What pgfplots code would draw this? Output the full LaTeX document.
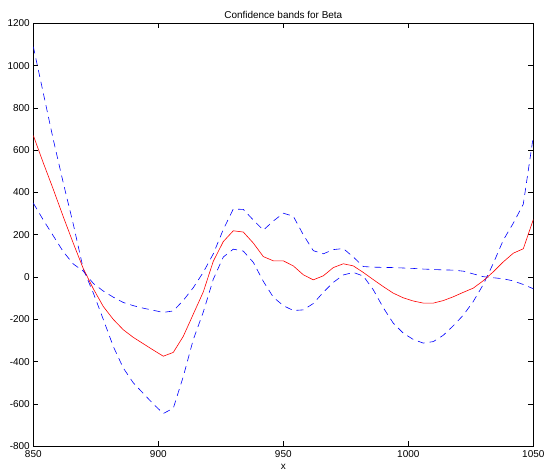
\documentclass[border=0pt]{standalone}
\usepackage{fontspec}
\setmainfont{Liberation Sans}
\usepackage{pgfplots}
\usepackage{pgfplotstable}
\pgfplotsset{compat=1.18}

\pgfplotstableread{
x    est   bandA  bandB
850  670   1090   350
854  540   870    270
858  415   650    195
862  285   445    120
866  160   250    62
870  40    38     28
874  -55   -75    -30
878  -139  -200   -66
882  -200  -328   -95
886  -249  -430   -120
890  -285  -500   -135
894  -315  -550   -147
898  -345  -600   -157
902  -374  -645   -167
906  -356  -620   -160
910  -280  -470   -110
914  -175  -295   -50
918  -70   -165   23
922  75    -10    110
926  168   95     225
930  219   132    322
934  213   123    320
938  161   70     270
942  97    -20    222
946  77    -95    265
950  77    -135   302
954  53    -158   288
958  11    -155   200
962  -13   -125   125
966  6     -72    110
970  45    -25    130
974  63    10     135
978  53    22     95
982  22    5      50
986  -12   -60    47
990  -45   -145   46
994  -76   -218   45
998  -98   -265   43
1002 -113  -295   41
1006 -123  -312   38
1010 -123  -305   36
1014 -111  -275   34
1018 -93   -230   33
1022 -72   -180   28
1026 -52   -115   15
1030 -17   -35    2
1034 25    65     -3
1038 72    175    -8
1042 113   255    -18
1046 134   345    -35
1050 272   665    -55
}\betatab

\begin{document}
\begin{tikzpicture}
\begin{axis}[
    scale only axis,
    width=500bp, height=423bp,
    xmin=850, xmax=1050,
    ymin=-800, ymax=1200,
    xtick={850,900,...,1050},
    ytick={-800,-600,...,1200},
    tick align=inside,
    major tick length=5bp,
    axis line style={line width=0.7pt},
    tick style={line width=0.6pt, black},
    /pgf/number format/assume math mode=true,
    /pgf/number format/1000 sep={},
    ticklabel style={font=\fontsize{10}{12}\selectfont},
    title={Confidence bands for Beta},
    title style={font=\fontsize{10}{12}\selectfont, yshift=-5bp},
    xlabel={x},
    xlabel style={font=\fontsize{10}{12}\selectfont, yshift=0bp},
    xticklabel style={yshift=-1bp},
]
\addplot[blue, dash pattern=on 7bp off 5bp, line width=0.6pt] table[x=x, y=bandA] {\betatab};
\addplot[blue, dash pattern=on 7bp off 5bp, line width=0.6pt] table[x=x, y=bandB] {\betatab};
\addplot[red, line width=0.6pt] table[x=x, y=est] {\betatab};
\end{axis}
\pgfresetboundingbox
\path ([xshift=-33.3bp,yshift=-27.5bp]current axis.south west) rectangle ([xshift=11.7bp,yshift=23.3bp]current axis.north east);
\end{tikzpicture}
\end{document}
